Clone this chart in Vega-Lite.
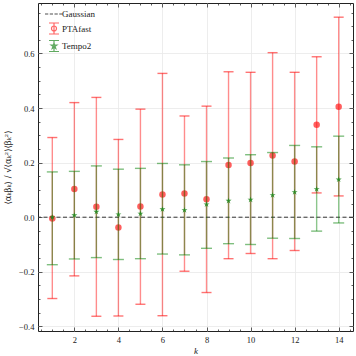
{
  "$schema": "https://vega.github.io/schema/vega-lite/v6.json",
  "width": 315,
  "height": 328,
  "autosize": {"type": "none"},
  "padding": {"left": 38, "top": 3, "right": 3, "bottom": 25},
  "config": {
    "view": {"stroke": "#222222", "strokeWidth": 1},
    "font": "Liberation Serif",
    "axis": {"labelFont": "Liberation Serif", "titleFont": "Liberation Serif", "labelColor": "#222222", "titleColor": "#222222", "tickColor": "#333333", "gridColor": "#e8e8e8", "gridWidth": 0.8, "tickWidth": 0.8}
  },
  "datasets": {
    "pta": [
      {"k": 1, "series": "PTAfast", "val": -0.005, "lo": -0.298, "hi": 0.292},
      {"k": 2, "series": "PTAfast", "val": 0.103, "lo": -0.215, "hi": 0.42},
      {"k": 3, "series": "PTAfast", "val": 0.038, "lo": -0.363, "hi": 0.439},
      {"k": 4, "series": "PTAfast", "val": -0.038, "lo": -0.362, "hi": 0.285},
      {"k": 5, "series": "PTAfast", "val": 0.039, "lo": -0.319, "hi": 0.396},
      {"k": 6, "series": "PTAfast", "val": 0.083, "lo": -0.361, "hi": 0.527},
      {"k": 7, "series": "PTAfast", "val": 0.087, "lo": -0.198, "hi": 0.371},
      {"k": 8, "series": "PTAfast", "val": 0.066, "lo": -0.276, "hi": 0.407},
      {"k": 9, "series": "PTAfast", "val": 0.191, "lo": -0.152, "hi": 0.533},
      {"k": 10, "series": "PTAfast", "val": 0.199, "lo": -0.133, "hi": 0.531},
      {"k": 11, "series": "PTAfast", "val": 0.226, "lo": -0.152, "hi": 0.603},
      {"k": 12, "series": "PTAfast", "val": 0.204, "lo": -0.122, "hi": 0.531},
      {"k": 13, "series": "PTAfast", "val": 0.339, "lo": 0.089, "hi": 0.588},
      {"k": 14, "series": "PTAfast", "val": 0.405, "lo": 0.078, "hi": 0.733}
    ],
    "tempo": [
      {"k": 1, "series": "Tempo2", "val": 0.0, "lo": -0.174, "hi": 0.166},
      {"k": 2, "series": "Tempo2", "val": 0.007, "lo": -0.153, "hi": 0.168},
      {"k": 3, "series": "Tempo2", "val": 0.02, "lo": -0.148, "hi": 0.188},
      {"k": 4, "series": "Tempo2", "val": 0.01, "lo": -0.155, "hi": 0.176},
      {"k": 5, "series": "Tempo2", "val": 0.013, "lo": -0.152, "hi": 0.179},
      {"k": 6, "series": "Tempo2", "val": 0.029, "lo": -0.135, "hi": 0.197},
      {"k": 7, "series": "Tempo2", "val": 0.026, "lo": -0.138, "hi": 0.192},
      {"k": 8, "series": "Tempo2", "val": 0.047, "lo": -0.114, "hi": 0.204},
      {"k": 9, "series": "Tempo2", "val": 0.06, "lo": -0.097, "hi": 0.217},
      {"k": 10, "series": "Tempo2", "val": 0.064, "lo": -0.1, "hi": 0.229},
      {"k": 11, "series": "Tempo2", "val": 0.081, "lo": -0.077, "hi": 0.237},
      {"k": 12, "series": "Tempo2", "val": 0.092, "lo": -0.078, "hi": 0.263},
      {"k": 13, "series": "Tempo2", "val": 0.103, "lo": -0.051, "hi": 0.258},
      {"k": 14, "series": "Tempo2", "val": 0.138, "lo": -0.021, "hi": 0.297}
    ]
  },
  "resolve": {"axis": {"x": "independent", "y": "independent"}},
  "layer": [
    {
      "data": {"name": "pta"},
      "mark": {"type": "point", "filled": true, "opacity": 0, "strokeWidth": 1.2},
      "encoding": {
        "x": {"field": "k", "type": "quantitative", "scale": {"domain": [0.35, 14.65], "nice": false, "zero": false}, "axis": null},
        "y": {"field": "val", "type": "quantitative", "scale": {"domain": [-0.417, 0.785], "nice": false, "zero": false}, "axis": null},
        "color": {"field": "series", "type": "nominal", "scale": {"domain": ["Gaussian", "PTAfast", "Tempo2"], "range": ["#222222", "#ff3030", "#2a8f2a"]},
          "legend": {"orient": "top-left", "offset": 3, "padding": 2, "title": null, "labelFont": "Liberation Serif", "labelFontSize": 9, "labelColor": "#222222", "labelOffset": 2, "symbolOffset": 5, "symbolSize": 100, "rowPadding": 1.5, "symbolStrokeWidth": 1.2, "symbolOpacity": 0.8}},
        "stroke": {"field": "series", "type": "nominal", "scale": {"domain": ["Gaussian", "PTAfast", "Tempo2"], "range": ["#222222", "#ff4040", "#3a963a"]}},
        "shape": {"field": "series", "type": "nominal", "scale": {"domain": ["Gaussian", "PTAfast", "Tempo2"], "range": ["M-1.8,0H-1.15M-0.85,0H-0.2M0.1,0H0.75M1.05,0H1.7", "M-1,-1.1H1M0,-1.1V1.1M-1,1.1H1M0.5,0A0.5,0.5 0 1,1 -0.5,0A0.5,0.5 0 1,1 0.5,0Z", "M-1,-1.1H1M0,-1.1V1.1M-1,1.1H1M0,-0.6L0.135,-0.185L0.571,-0.185L0.218,0.071L0.353,0.485L0,0.229L-0.353,0.485L-0.218,0.071L-0.571,-0.185L-0.135,-0.185Z"]}}
      }
    },
    {
      "data": {"name": "pta"},
      "mark": {"type": "rule", "color": "#ff0000", "opacity": 0.45, "strokeWidth": 1.4},
      "encoding": {
        "x": {"field": "k", "type": "quantitative", "scale": {"domain": [0.35, 14.65], "nice": false, "zero": false},
          "axis": {"orient": "bottom", "values": [2, 4, 6, 8, 10, 12, 14], "grid": true, "ticks": false, "domain": false, "labelFontSize": 8.5, "labelPadding": 4, "title": "k", "titleFontStyle": "italic", "titleFontWeight": "normal", "titleFontSize": 9, "titlePadding": 3}},
        "y": {"field": "lo", "type": "quantitative", "scale": {"domain": [-0.417, 0.785], "nice": false, "zero": false},
          "axis": {"orient": "left", "values": [-0.4, -0.2, 0, 0.2, 0.4, 0.6], "format": ".1f", "grid": true, "ticks": false, "domain": false, "labelFontSize": 8.5, "labelPadding": 4, "title": "⟨αₖβₖ⟩ / √⟨αₖ²⟩⟨βₖ²⟩", "titleFont": "DejaVu Serif", "titleFontWeight": "normal", "titleFontSize": 8.5, "titlePadding": 6}},
        "y2": {"field": "hi"}
      }
    },
    {
      "data": {"values": [{"g": 0}]},
      "mark": {"type": "rule", "color": "#333333", "strokeDash": [4, 2.5], "strokeWidth": 1},
      "encoding": {
        "y": {"field": "g", "type": "quantitative", "scale": {"domain": [-0.417, 0.785], "nice": false, "zero": false},
          "axis": {"orient": "left", "values": [-0.4, -0.2, 0, 0.2, 0.4, 0.6], "labels": false, "grid": false, "domain": false, "ticks": true, "tickSize": 4, "offset": -4, "title": null}}
      }
    },
    {
      "data": {"name": "pta"},
      "mark": {"type": "tick", "orient": "horizontal", "color": "#ff0000", "opacity": 0.55, "size": 10, "thickness": 1.4},
      "encoding": {
        "x": {"field": "k", "type": "quantitative", "scale": {"domain": [0.35, 14.65], "nice": false, "zero": false},
          "axis": {"orient": "bottom", "values": [2, 4, 6, 8, 10, 12, 14], "labels": false, "grid": false, "domain": false, "ticks": true, "tickSize": 4, "offset": -4, "title": null}},
        "y": {"field": "lo", "type": "quantitative", "scale": {"domain": [-0.417, 0.785], "nice": false, "zero": false},
          "axis": {"orient": "left", "values": [-0.35, -0.3, -0.25, -0.15, -0.1, -0.05, 0.05, 0.1, 0.15, 0.25, 0.3, 0.35, 0.45, 0.5, 0.55, 0.65, 0.7, 0.75], "labels": false, "grid": false, "domain": false, "ticks": true, "tickSize": 2, "offset": -2, "title": null}}
      }
    },
    {
      "data": {"name": "pta"},
      "mark": {"type": "tick", "orient": "horizontal", "color": "#ff0000", "opacity": 0.55, "size": 10, "thickness": 1.4},
      "encoding": {
        "x": {"field": "k", "type": "quantitative", "scale": {"domain": [0.35, 14.65], "nice": false, "zero": false},
          "axis": {"orient": "bottom", "values": [0.5, 1, 1.5, 2.5, 3, 3.5, 4.5, 5, 5.5, 6.5, 7, 7.5, 8.5, 9, 9.5, 10.5, 11, 11.5, 12.5, 13, 13.5, 14.5], "labels": false, "grid": false, "domain": false, "ticks": true, "tickSize": 2, "offset": -2, "title": null}},
        "y": {"field": "hi", "type": "quantitative", "scale": {"domain": [-0.417, 0.785], "nice": false, "zero": false},
          "axis": {"orient": "right", "values": [-0.4, -0.2, 0, 0.2, 0.4, 0.6], "labels": false, "grid": false, "domain": false, "ticks": true, "tickSize": 4, "offset": -4, "title": null}}
      }
    },
    {
      "data": {"name": "pta"},
      "mark": {"type": "point", "filled": true, "opacity": 0.7, "size": 42, "shape": "circle", "color": "#ff1a1a"},
      "encoding": {
        "x": {"field": "k", "type": "quantitative", "scale": {"domain": [0.35, 14.65], "nice": false, "zero": false}, "axis": null},
        "y": {"field": "val", "type": "quantitative", "scale": {"domain": [-0.417, 0.785], "nice": false, "zero": false}, "axis": null}
      }
    },
    {
      "data": {"name": "tempo"},
      "mark": {"type": "rule", "color": "#008000", "opacity": 0.45, "strokeWidth": 1.4},
      "encoding": {
        "x": {"field": "k", "type": "quantitative", "scale": {"domain": [0.35, 14.65], "nice": false, "zero": false},
          "axis": {"orient": "top", "values": [2, 4, 6, 8, 10, 12, 14], "labels": false, "grid": false, "domain": false, "ticks": true, "tickSize": 4, "offset": -4, "title": null}},
        "y": {"field": "lo", "type": "quantitative", "scale": {"domain": [-0.417, 0.785], "nice": false, "zero": false},
          "axis": {"orient": "right", "values": [-0.35, -0.3, -0.25, -0.15, -0.1, -0.05, 0.05, 0.1, 0.15, 0.25, 0.3, 0.35, 0.45, 0.5, 0.55, 0.65, 0.7, 0.75], "labels": false, "grid": false, "domain": false, "ticks": true, "tickSize": 2, "offset": -2, "title": null}},
        "y2": {"field": "hi"}
      }
    },
    {
      "data": {"name": "tempo"},
      "mark": {"type": "tick", "orient": "horizontal", "color": "#008000", "opacity": 0.5, "size": 11, "thickness": 1.4},
      "encoding": {
        "x": {"field": "k", "type": "quantitative", "scale": {"domain": [0.35, 14.65], "nice": false, "zero": false},
          "axis": {"orient": "top", "values": [0.5, 1, 1.5, 2.5, 3, 3.5, 4.5, 5, 5.5, 6.5, 7, 7.5, 8.5, 9, 9.5, 10.5, 11, 11.5, 12.5, 13, 13.5, 14.5], "labels": false, "grid": false, "domain": false, "ticks": true, "tickSize": 2, "offset": -2, "title": null}},
        "y": {"field": "lo", "type": "quantitative", "scale": {"domain": [-0.417, 0.785], "nice": false, "zero": false}, "axis": null}
      }
    },
    {
      "data": {"name": "tempo"},
      "mark": {"type": "tick", "orient": "horizontal", "color": "#008000", "opacity": 0.5, "size": 11, "thickness": 1.4},
      "encoding": {
        "x": {"field": "k", "type": "quantitative", "scale": {"domain": [0.35, 14.65], "nice": false, "zero": false}, "axis": null},
        "y": {"field": "hi", "type": "quantitative", "scale": {"domain": [-0.417, 0.785], "nice": false, "zero": false}, "axis": null}
      }
    },
    {
      "data": {"name": "tempo"},
      "mark": {"type": "point", "filled": true, "opacity": 0.85, "size": 40, "color": "#1f8a1f", "shape": "M0,-1L0.2245,-0.309L0.951,-0.309L0.363,0.118L0.588,0.809L0,0.382L-0.588,0.809L-0.363,0.118L-0.951,-0.309L-0.2245,-0.309Z"},
      "encoding": {
        "x": {"field": "k", "type": "quantitative", "scale": {"domain": [0.35, 14.65], "nice": false, "zero": false}, "axis": null},
        "y": {"field": "val", "type": "quantitative", "scale": {"domain": [-0.417, 0.785], "nice": false, "zero": false}, "axis": null}
      }
    }
  ]
}
